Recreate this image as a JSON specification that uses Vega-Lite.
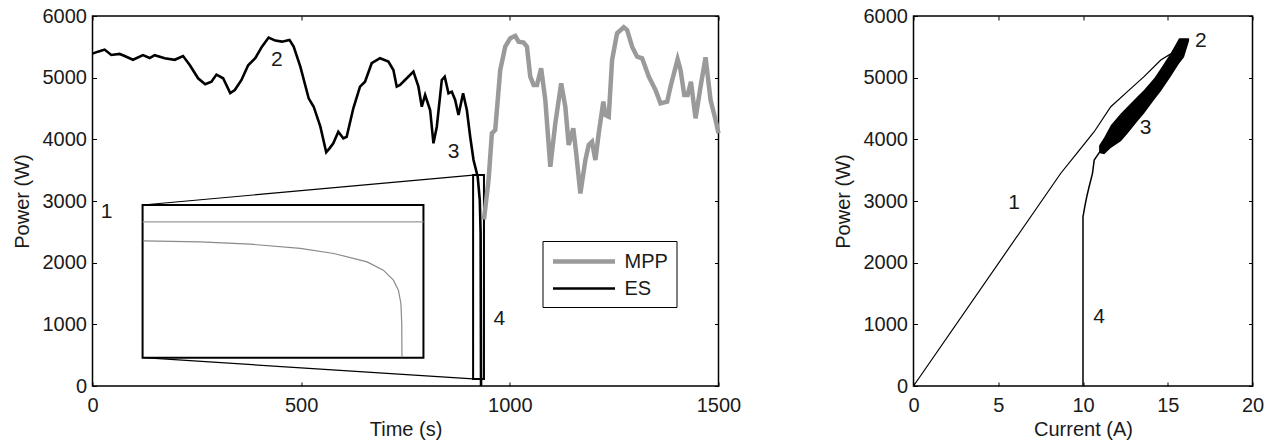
{
  "$schema": "https://vega.github.io/schema/vega-lite/v6.json",
  "padding": {"left": 10.5, "top": 5, "right": 5, "bottom": 0},
  "background": "white",
  "spacing": 90,
  "datasets": {
    "main": [
      {"t": 0, "P": 5390, "s": "ES"}, {"t": 13, "P": 5422, "s": "ES"}, {"t": 29, "P": 5455, "s": "ES"}, {"t": 45, "P": 5368, "s": "ES"},
      {"t": 65, "P": 5385, "s": "ES"}, {"t": 77, "P": 5352, "s": "ES"}, {"t": 97, "P": 5290, "s": "ES"}, {"t": 121, "P": 5365, "s": "ES"},
      {"t": 137, "P": 5318, "s": "ES"}, {"t": 149, "P": 5365, "s": "ES"}, {"t": 173, "P": 5315, "s": "ES"}, {"t": 197, "P": 5290, "s": "ES"},
      {"t": 217, "P": 5350, "s": "ES"}, {"t": 233, "P": 5206, "s": "ES"}, {"t": 253, "P": 4990, "s": "ES"}, {"t": 270, "P": 4893, "s": "ES"},
      {"t": 285, "P": 4935, "s": "ES"}, {"t": 297, "P": 5050, "s": "ES"}, {"t": 313, "P": 4990, "s": "ES"}, {"t": 330, "P": 4750, "s": "ES"},
      {"t": 341, "P": 4800, "s": "ES"}, {"t": 357, "P": 4963, "s": "ES"}, {"t": 373, "P": 5200, "s": "ES"}, {"t": 390, "P": 5315, "s": "ES"},
      {"t": 406, "P": 5503, "s": "ES"}, {"t": 422, "P": 5650, "s": "ES"}, {"t": 438, "P": 5601, "s": "ES"}, {"t": 454, "P": 5584, "s": "ES"},
      {"t": 472, "P": 5612, "s": "ES"}, {"t": 482, "P": 5503, "s": "ES"}, {"t": 498, "P": 5179, "s": "ES"}, {"t": 518, "P": 4665, "s": "ES"},
      {"t": 530, "P": 4529, "s": "ES"}, {"t": 546, "P": 4205, "s": "ES"}, {"t": 560, "P": 3790, "s": "ES"}, {"t": 568, "P": 3853, "s": "ES"},
      {"t": 577, "P": 3935, "s": "ES"}, {"t": 589, "P": 4123, "s": "ES"}, {"t": 601, "P": 4016, "s": "ES"}, {"t": 609, "P": 4042, "s": "ES"},
      {"t": 625, "P": 4503, "s": "ES"}, {"t": 641, "P": 4854, "s": "ES"}, {"t": 653, "P": 4935, "s": "ES"}, {"t": 669, "P": 5234, "s": "ES"},
      {"t": 689, "P": 5315, "s": "ES"}, {"t": 709, "P": 5260, "s": "ES"}, {"t": 721, "P": 5125, "s": "ES"}, {"t": 729, "P": 4854, "s": "ES"},
      {"t": 737, "P": 4882, "s": "ES"}, {"t": 753, "P": 4990, "s": "ES"}, {"t": 769, "P": 5097, "s": "ES"}, {"t": 781, "P": 4854, "s": "ES"},
      {"t": 789, "P": 4529, "s": "ES"}, {"t": 797, "P": 4719, "s": "ES"}, {"t": 809, "P": 4476, "s": "ES"}, {"t": 817, "P": 3935, "s": "ES"},
      {"t": 825, "P": 4205, "s": "ES"}, {"t": 837, "P": 4963, "s": "ES"}, {"t": 844, "P": 5016, "s": "ES"}, {"t": 853, "P": 4747, "s": "ES"},
      {"t": 861, "P": 4773, "s": "ES"}, {"t": 869, "P": 4638, "s": "ES"}, {"t": 877, "P": 4394, "s": "ES"}, {"t": 888, "P": 4747, "s": "ES"},
      {"t": 897, "P": 4476, "s": "ES"}, {"t": 905, "P": 4042, "s": "ES"}, {"t": 913, "P": 3664, "s": "ES"}, {"t": 923, "P": 3393, "s": "ES"},
      {"t": 928, "P": 3015, "s": "ES"}, {"t": 930, "P": 2479, "s": "ES"}, {"t": 931, "P": 0, "s": "ES"},
      {"t": 938, "P": 2700, "s": "MPP"}, {"t": 949, "P": 3339, "s": "MPP"}, {"t": 957, "P": 4097, "s": "MPP"}, {"t": 965, "P": 4151, "s": "MPP"},
      {"t": 977, "P": 5125, "s": "MPP"}, {"t": 989, "P": 5503, "s": "MPP"}, {"t": 1001, "P": 5640, "s": "MPP"}, {"t": 1013, "P": 5677, "s": "MPP"},
      {"t": 1021, "P": 5584, "s": "MPP"}, {"t": 1033, "P": 5568, "s": "MPP"}, {"t": 1041, "P": 5503, "s": "MPP"}, {"t": 1049, "P": 5016, "s": "MPP"},
      {"t": 1057, "P": 4882, "s": "MPP"}, {"t": 1065, "P": 4882, "s": "MPP"}, {"t": 1075, "P": 5153, "s": "MPP"}, {"t": 1085, "P": 4638, "s": "MPP"},
      {"t": 1097, "P": 3555, "s": "MPP"}, {"t": 1109, "P": 4260, "s": "MPP"}, {"t": 1123, "P": 4909, "s": "MPP"}, {"t": 1133, "P": 4529, "s": "MPP"},
      {"t": 1141, "P": 3908, "s": "MPP"}, {"t": 1152, "P": 4179, "s": "MPP"}, {"t": 1159, "P": 3773, "s": "MPP"}, {"t": 1169, "P": 3123, "s": "MPP"},
      {"t": 1181, "P": 3664, "s": "MPP"}, {"t": 1189, "P": 3908, "s": "MPP"}, {"t": 1197, "P": 3961, "s": "MPP"}, {"t": 1205, "P": 3664, "s": "MPP"},
      {"t": 1213, "P": 4097, "s": "MPP"}, {"t": 1224, "P": 4611, "s": "MPP"}, {"t": 1229, "P": 4394, "s": "MPP"}, {"t": 1237, "P": 4367, "s": "MPP"},
      {"t": 1245, "P": 5287, "s": "MPP"}, {"t": 1257, "P": 5721, "s": "MPP"}, {"t": 1273, "P": 5818, "s": "MPP"}, {"t": 1281, "P": 5774, "s": "MPP"},
      {"t": 1293, "P": 5503, "s": "MPP"}, {"t": 1305, "P": 5341, "s": "MPP"}, {"t": 1317, "P": 5315, "s": "MPP"}, {"t": 1333, "P": 5016, "s": "MPP"},
      {"t": 1349, "P": 4800, "s": "MPP"}, {"t": 1361, "P": 4584, "s": "MPP"}, {"t": 1377, "P": 4611, "s": "MPP"}, {"t": 1385, "P": 4854, "s": "MPP"},
      {"t": 1402, "P": 5298, "s": "MPP"}, {"t": 1409, "P": 5125, "s": "MPP"}, {"t": 1418, "P": 4719, "s": "MPP"}, {"t": 1426, "P": 4719, "s": "MPP"},
      {"t": 1434, "P": 4935, "s": "MPP"}, {"t": 1445, "P": 4341, "s": "MPP"}, {"t": 1457, "P": 4854, "s": "MPP"}, {"t": 1469, "P": 5331, "s": "MPP"},
      {"t": 1481, "P": 4638, "s": "MPP"}, {"t": 1493, "P": 4313, "s": "MPP"}, {"t": 1500, "P": 4100, "s": "MPP"}
    ],
    "boxes": [
      {"xa": 120, "xb": 793, "ya": 460, "yb": 2935},
      {"xa": 912, "xb": 938, "ya": 114, "yb": 3420}
    ],
    "connectors": [
      {"xa": 120, "ya": 2935, "xb": 912, "yb": 3420},
      {"xa": 122, "ya": 460, "xb": 912, "yb": 114}
    ],
    "insetRef": [
      {"xa": 120, "xb": 793, "y": 2662}
    ],
    "insetCurve": [
      {"t": 122, "P": 2354}, {"t": 258, "P": 2338}, {"t": 378, "P": 2300}, {"t": 498, "P": 2231},
      {"t": 578, "P": 2149}, {"t": 658, "P": 2013}, {"t": 697, "P": 1878}, {"t": 721, "P": 1716},
      {"t": 733, "P": 1554}, {"t": 739, "P": 1338}, {"t": 741, "P": 1013}, {"t": 741.5, "P": 466}
    ],
    "leftLabels": [
      {"t": 34, "P": 2825, "label": "1"}, {"t": 442, "P": 5287, "label": "2"},
      {"t": 865, "P": 3799, "label": "3"}, {"t": 975, "P": 1094, "label": "4"}
    ],
    "curve1": [
      {"A": 0, "P": 0}, {"A": 8.69, "P": 3450}, {"A": 9.68, "P": 3790}, {"A": 10.66, "P": 4123},
      {"A": 11.64, "P": 4529}, {"A": 12.62, "P": 4773}, {"A": 13.6, "P": 5016}, {"A": 14.59, "P": 5287}, {"A": 15.2, "P": 5390}
    ],
    "band": [
      {"A": 10.95, "lo": 3780, "hi": 3900}, {"A": 11.25, "lo": 3760, "hi": 4030}, {"A": 11.64, "lo": 3860, "hi": 4230},
      {"A": 12.23, "lo": 3970, "hi": 4420}, {"A": 12.62, "lo": 4090, "hi": 4530}, {"A": 13.2, "lo": 4290, "hi": 4690},
      {"A": 13.6, "lo": 4420, "hi": 4800}, {"A": 14.2, "lo": 4640, "hi": 4990}, {"A": 14.59, "lo": 4780, "hi": 5150},
      {"A": 15.18, "lo": 5020, "hi": 5400}, {"A": 15.67, "lo": 5230, "hi": 5640}, {"A": 15.96, "lo": 5330, "hi": 5640},
      {"A": 16.26, "lo": 5600, "hi": 5640}
    ],
    "tail": [
      {"i": 0, "A": 11.0, "P": 3800}, {"i": 1, "A": 10.66, "P": 3664}, {"i": 2, "A": 10.56, "P": 3448},
      {"i": 3, "A": 10.36, "P": 3231}, {"i": 4, "A": 10.22, "P": 3068}, {"i": 5, "A": 10.1, "P": 2900},
      {"i": 6, "A": 10.03, "P": 2790}, {"i": 7, "A": 10.0, "P": 2750}, {"i": 8, "A": 10.0, "P": 0}
    ],
    "rightLabels": [
      {"A": 5.93, "P": 2961, "label": "1"}, {"A": 16.95, "P": 5595, "label": "2"},
      {"A": 13.7, "P": 4178, "label": "3"}, {"A": 10.95, "P": 1120, "label": "4"}
    ]
  },
  "hconcat": [
    {
      "width": 626,
      "height": 370,
      "layer": [
        {
          "data": {"name": "boxes"},
          "mark": {"type": "rect", "filled": false, "color": "black", "strokeWidth": 2},
          "encoding": {
            "x": {"field": "xa", "type": "quantitative", "axis": null, "scale": {"domain": [0, 1500], "nice": false}},
            "x2": {"field": "xb"},
            "y": {"field": "ya", "type": "quantitative", "axis": null, "scale": {"domain": [0, 6000], "nice": false}},
            "y2": {"field": "yb"}
          }
        },
        {
          "data": {"name": "connectors"},
          "mark": {"type": "rule", "color": "black", "strokeWidth": 1.2},
          "encoding": {
            "x": {"field": "xa", "type": "quantitative", "axis": null, "scale": {"domain": [0, 1500], "nice": false}},
            "x2": {"field": "xb"},
            "y": {"field": "ya", "type": "quantitative", "axis": null, "scale": {"domain": [0, 6000], "nice": false}},
            "y2": {"field": "yb"}
          }
        },
        {
          "data": {"name": "insetRef"},
          "mark": {"type": "rule", "color": "#9a9a9a", "strokeWidth": 1.2},
          "encoding": {
            "x": {"field": "xa", "type": "quantitative", "axis": null, "scale": {"domain": [0, 1500], "nice": false}},
            "x2": {"field": "xb"},
            "y": {"field": "y", "type": "quantitative", "axis": null, "scale": {"domain": [0, 6000], "nice": false}}
          }
        },
        {
          "data": {"name": "insetCurve"},
          "mark": {"type": "line", "color": "#8a8a8a", "strokeWidth": 1.2},
          "encoding": {
            "x": {"field": "t", "type": "quantitative", "axis": null, "scale": {"domain": [0, 1500], "nice": false}},
            "y": {"field": "P", "type": "quantitative", "axis": null, "scale": {"domain": [0, 6000], "nice": false}}
          }
        },
        {
          "data": {"name": "main"},
          "mark": {"type": "line"},
          "encoding": {
            "x": {"field": "t", "type": "quantitative", "title": "Time (s)", "scale": {"domain": [0, 1500], "nice": false},
                  "axis": {"orient": "bottom", "values": [0, 500, 1000, 1500]}},
            "y": {"field": "P", "type": "quantitative", "title": "Power (W)", "scale": {"domain": [0, 6000], "nice": false},
                  "axis": {"orient": "left", "values": [0, 1000, 2000, 3000, 4000, 5000, 6000]}},
            "color": {"field": "s", "type": "nominal", "scale": {"domain": ["MPP", "ES"], "range": ["#9a9a9a", "#000000"]},
                      "legend": {"title": null, "orient": "none", "legendX": 450, "legendY": 225, "strokeColor": "black", "fillColor": "white",
                                 "padding": 8, "symbolType": "M-1,0H5.2", "symbolSize": 400, "labelFontSize": 20, "labelFont": "Liberation Sans",
                                 "labelColor": "#1a1a1a", "labelOffset": 49, "rowPadding": 5}},
            "strokeWidth": {"field": "s", "type": "nominal", "scale": {"domain": ["MPP", "ES"], "range": [4.5, 2.6]},
                      "legend": {"title": null, "orient": "none", "legendX": 450, "legendY": 225, "strokeColor": "black", "fillColor": "white",
                                 "padding": 8, "symbolType": "M-1,0H5.2", "symbolSize": 400, "labelFontSize": 20, "labelFont": "Liberation Sans",
                                 "labelColor": "#1a1a1a", "labelOffset": 49, "rowPadding": 5}}
          }
        },
        {
          "data": {"name": "leftLabels"},
          "mark": {"type": "text", "font": "Liberation Sans", "fontSize": 21, "color": "#1a1a1a", "align": "center", "baseline": "middle"},
          "encoding": {
            "x": {"field": "t", "type": "quantitative", "scale": {"domain": [0, 1500], "nice": false},
                  "axis": {"orient": "top", "values": [0, 500, 1000, 1500], "labels": false, "title": null}},
            "y": {"field": "P", "type": "quantitative", "scale": {"domain": [0, 6000], "nice": false},
                  "axis": {"orient": "right", "values": [0, 1000, 2000, 3000, 4000, 5000, 6000], "labels": false, "title": null}},
            "text": {"field": "label"}
          }
        }
      ],
      "resolve": {"axis": {"x": "independent", "y": "independent"}}
    },
    {
      "width": 339,
      "height": 370,
      "layer": [
        {
          "data": {"name": "curve1"},
          "mark": {"type": "line", "color": "black", "strokeWidth": 1.2},
          "encoding": {
            "x": {"field": "A", "type": "quantitative", "title": "Current (A)", "scale": {"domain": [0, 20], "nice": false},
                  "axis": {"orient": "bottom", "values": [0, 5, 10, 15, 20]}},
            "y": {"field": "P", "type": "quantitative", "title": "Power (W)", "scale": {"domain": [0, 6000], "nice": false},
                  "axis": {"orient": "left", "values": [0, 1000, 2000, 3000, 4000, 5000, 6000]}}
          }
        },
        {
          "data": {"name": "band"},
          "mark": {"type": "area", "color": "black", "opacity": 1},
          "encoding": {
            "x": {"field": "A", "type": "quantitative", "axis": null, "scale": {"domain": [0, 20], "nice": false}},
            "y": {"field": "lo", "type": "quantitative", "axis": null, "scale": {"domain": [0, 6000], "nice": false}},
            "y2": {"field": "hi"}
          }
        },
        {
          "data": {"name": "tail"},
          "mark": {"type": "line", "color": "black", "strokeWidth": 1.5},
          "encoding": {
            "x": {"field": "A", "type": "quantitative", "axis": null, "scale": {"domain": [0, 20], "nice": false}},
            "y": {"field": "P", "type": "quantitative", "axis": null, "scale": {"domain": [0, 6000], "nice": false}},
            "order": {"field": "i", "type": "quantitative"}
          }
        },
        {
          "data": {"name": "rightLabels"},
          "mark": {"type": "text", "font": "Liberation Sans", "fontSize": 21, "color": "#1a1a1a", "align": "center", "baseline": "middle"},
          "encoding": {
            "x": {"field": "A", "type": "quantitative", "scale": {"domain": [0, 20], "nice": false},
                  "axis": {"orient": "top", "values": [0, 5, 10, 15, 20], "labels": false, "title": null}},
            "y": {"field": "P", "type": "quantitative", "scale": {"domain": [0, 6000], "nice": false},
                  "axis": {"orient": "right", "values": [0, 1000, 2000, 3000, 4000, 5000, 6000], "labels": false, "title": null}},
            "text": {"field": "label"}
          }
        }
      ],
      "resolve": {"axis": {"x": "independent", "y": "independent"}}
    }
  ],
  "config": {
    "view": {"stroke": "black", "strokeWidth": 1.5},
    "axis": {
      "grid": false, "domain": false, "format": "d",
      "labelFont": "Liberation Sans", "labelFontSize": 20, "labelColor": "#1a1a1a",
      "titleFont": "Liberation Sans", "titleFontSize": 20, "titleFontWeight": "normal", "titleColor": "#1a1a1a",
      "tickColor": "black", "tickSize": 4, "tickWidth": 1, "offset": -4,
      "labelFlush": false, "labelOverlap": false
    },
    "axisX": {"labelPadding": 9, "titlePadding": 4},
    "axisY": {"labelPadding": 6, "titlePadding": 10}
  }
}
